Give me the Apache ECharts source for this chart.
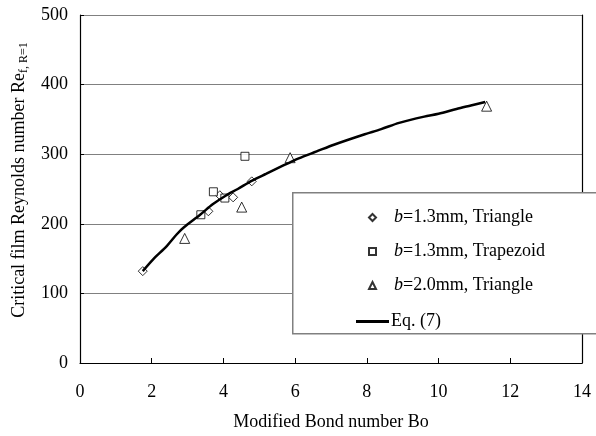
<!DOCTYPE html>
<html>
<head>
<meta charset="utf-8">
<script src="https://cdn.jsdelivr.net/npm/echarts@6/dist/echarts.min.js"></script>
<style>html,body{margin:0;padding:0;background:#fff;}#c{width:596px;height:436px;}</style>
</head>
<body>
<div id="c"></div>
<script>
// Data
var triangle13Bo = [1.75, 3.58, 3.90, 4.27, 4.79];
var triangle13Re = [132, 218, 241, 238, 261];
var trapezoid13Bo = [3.37, 3.72, 4.04, 4.60];
var trapezoid13Re = [213, 246, 237, 297];
var triangle20Bo = [2.92, 4.51, 5.86, 11.34];
var triangle20Re = [179, 224, 295, 369];
var eqBo = [1.75, 2.04, 2.42, 2.70, 2.90, 3.35, 3.70, 4.05, 4.40, 4.80, 5.20, 5.60, 6.10, 6.60, 7.10, 7.90, 8.40, 8.90, 9.60, 10.0, 10.5, 10.9, 11.3];
var eqRe = [132, 149, 168, 185, 195, 213, 228, 240, 250, 262, 272, 282, 294, 304, 314, 328, 336, 345, 354, 358, 365, 370, 375];
var xTicks = [0, 2, 4, 6, 8, 10, 12, 14];
var yTicks = [0, 100, 200, 300, 400, 500];
var seriesNames = ['b=1.3mm, Triangle', 'b=1.3mm, Trapezoid', 'b=2.0mm, Triangle', 'Eq. (7)'];

function zip(a, b) { return a.map(function (v, i) { return [v, b[i]]; }); }

var FONT = 'Liberation Serif, Times New Roman, serif';
var chart = echarts.init(document.getElementById('c'), null, { renderer: 'canvas' });

var scatterStyle = { color: '#fff', borderColor: '#000', borderWidth: 1 };

var option = {
  backgroundColor: '#fff',
  animation: false,
  grid: { left: 80, right: 14, top: 15, bottom: 72 },
  xAxis: {
    type: 'value', min: xTicks[0], max: xTicks[xTicks.length - 1], interval: 2,
    name: 'Modified Bond number Bo', nameLocation: 'middle', nameGap: 50,
    nameTextStyle: { fontFamily: FONT, fontSize: 18, color: '#000' },
    axisLine: { lineStyle: { color: '#000', width: 1.2 } },
    axisTick: { show: true, inside: true, length: 5, lineStyle: { color: '#000' } },
    axisLabel: { fontFamily: FONT, fontSize: 18, color: '#000', margin: 20 },
    splitLine: { show: false }
  },
  yAxis: [{
    type: 'value', min: yTicks[0], max: yTicks[yTicks.length - 1], interval: 100,
    name: '{a|Critical film Reynolds number Re}{s|f, R=1}', nameLocation: 'middle', nameGap: 47,
    nameTextStyle: {
      fontFamily: FONT, color: '#000', padding: [0, 0, 0, 18],
      rich: {
        a: { fontFamily: FONT, fontSize: 18, color: '#000', lineHeight: 22, verticalAlign: 'middle' },
        s: { fontFamily: FONT, fontSize: 12, color: '#000', lineHeight: 22, verticalAlign: 'bottom' }
      }
    },
    axisLine: { show: true, lineStyle: { color: '#000', width: 1.2 } },
    axisTick: { show: true, inside: true, length: 4, lineStyle: { color: '#000' } },
    axisLabel: { fontFamily: FONT, fontSize: 18, color: '#000', margin: 12 },
    splitLine: { show: true, lineStyle: { color: '#808080', width: 1 } }
  }, {
    type: 'value', position: 'right', min: yTicks[0], max: yTicks[yTicks.length - 1], interval: 100,
    axisLine: { show: true, lineStyle: { color: '#000', width: 1.2 } },
    axisTick: { show: false }, axisLabel: { show: false }, splitLine: { show: false }
  }],
  graphic: [{
    type: 'rect', left: 292, top: 192, z: 50,
    shape: { width: 320, height: 141 },
    style: { fill: '#fff', stroke: '#808080', lineWidth: 1.5 }
  }],
  legend: [{
    z: 60, orient: 'vertical', left: 363, top: 202,
    data: seriesNames.slice(0, 3),
    itemWidth: 7, itemHeight: 7, itemGap: 13,
    formatter: function (n) { return '{g|}{i|b}{n|' + n.slice(1) + '}'; },
    textStyle: {
      fontFamily: FONT, fontSize: 18, color: '#000', lineHeight: 21,
      rich: {
        g: { width: 13 },
        i: { fontFamily: FONT, fontSize: 18, fontStyle: 'italic', color: '#000' },
        n: { fontFamily: FONT, fontSize: 18, color: '#000' }
      }
    }
  }, {
    z: 60, orient: 'vertical', left: 351, top: 306,
    data: [{ name: seriesNames[3], icon: 'rect' }],
    itemWidth: 33, itemHeight: 3,
    itemStyle: { color: '#000' },
    textStyle: { fontFamily: FONT, fontSize: 18, color: '#000', lineHeight: 21, padding: [0, 0, 0, -3] }
  }],
  series: [{
    name: seriesNames[0], type: 'scatter', symbol: 'diamond', symbolSize: 9,
    data: zip(triangle13Bo, triangle13Re), itemStyle: scatterStyle, z: 3
  }, {
    name: seriesNames[1], type: 'scatter', symbol: 'rect', symbolSize: 8,
    data: zip(trapezoid13Bo, trapezoid13Re), itemStyle: scatterStyle, z: 3
  }, {
    name: seriesNames[2], type: 'scatter', symbol: 'triangle', symbolSize: 10,
    data: zip(triangle20Bo, triangle20Re), itemStyle: scatterStyle, z: 3
  }, {
    name: seriesNames[3], type: 'line', symbol: 'none', smooth: 0.3,
    data: zip(eqBo, eqRe), lineStyle: { color: '#000', width: 2.5 }, itemStyle: { color: '#000' }, z: 4
  }]
};
chart.setOption(option);
</script>
</body>
</html>
